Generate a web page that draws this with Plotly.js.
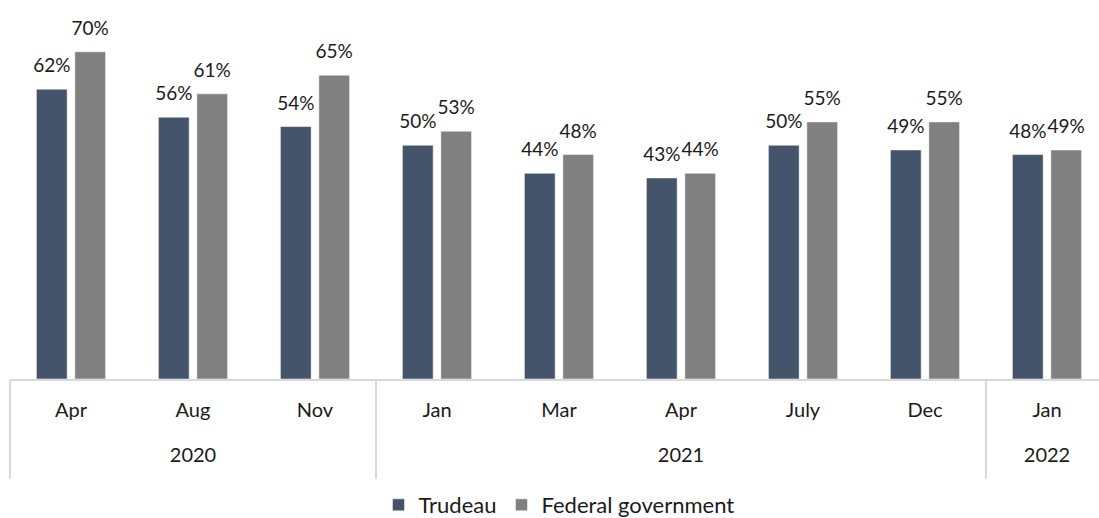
<!DOCTYPE html>
<html>
<head>
<meta charset="utf-8">
<script src="https://cdn.plot.ly/plotly-3.0.1.min.js"></script>
<style>
html,body{margin:0;padding:0;background:#fff;}
#wrap{width:1099px;height:518px;overflow:hidden;position:relative;}
#chart{width:1110px;height:518px;}
</style>
</head>
<body>
<div id="wrap"><div id="chart"></div></div>
<script>
const years = ['2020','2020','2020','2021','2021','2021','2021','2021','2022'];
const months = ['Apr','Aug','Nov','Jan','Mar','Apr','July','Dec','Jan'];
const trudeau = [62, 56, 54, 50, 44, 43, 50, 49, 48];
const federal = [70, 61, 65, 53, 48, 44, 55, 55, 49];
const seriesNames = ['Trudeau', 'Federal government'];
const colors = ['#44546A', '#808080'];

const FONT = 'Lato, "Open Sans", sans-serif';
const INK = '#1a1a1a';
const LINE = '#D9D9D9';
const textTpl = '<span style="font-size:19px">%{y}%</span><br><span style="font-size:6px"> </span>';

// unique category ids (year + month), shown with month tick text
const cats = years.map((y, i) => y + ' ' + months[i]);
// year groups: centre index of each year and the boundaries between groups
const yearNames = [...new Set(years)];
const yearCenters = yearNames.map(y => {
  const idx = years.map((v, i) => v === y ? i : -1).filter(i => i >= 0);
  return (idx[0] + idx[idx.length - 1]) / 2;
});
const boundaries = [-0.5];
years.forEach((y, i) => { if (i > 0 && y !== years[i - 1]) boundaries.push(i - 0.5); });
boundaries.push(years.length - 0.5);
const xRange = [-0.5, years.length - 0.5];

const traces = [trudeau, federal].map((vals, i) => ({
  type: 'bar',
  name: seriesNames[i],
  x: cats,
  y: vals,
  marker: {color: colors[i], line: {color: 'rgba(255,255,255,0.5)', width: 1}},
  texttemplate: textTpl,
  textposition: 'outside',
  constraintext: 'none',
  cliponaxis: false,
  textfont: {family: FONT, size: 10, color: INK},
  hoverinfo: 'skip'
}));

// carrier traces (no visible marks) so the year-label axis and the divider axis are drawn
traces.push({
  type: 'scatter', mode: 'markers', xaxis: 'x2', yaxis: 'y',
  x: yearCenters, y: yearCenters.map(() => 0),
  marker: {opacity: 0, size: 1}, showlegend: false, hoverinfo: 'skip', cliponaxis: true
});
traces.push({
  type: 'scatter', mode: 'markers', xaxis: 'x3', yaxis: 'y',
  x: boundaries, y: boundaries.map(() => 0),
  marker: {opacity: 0, size: 1}, showlegend: false, hoverinfo: 'skip', cliponaxis: true
});

const layout = {
  width: 1110,
  height: 518,
  margin: {l: 10, r: 2, t: 5, b: 139, autoexpand: false},
  paper_bgcolor: '#fff',
  plot_bgcolor: '#fff',
  barmode: 'group',
  bargap: 0.37,
  bargroupgap: 0.2,
  font: {family: FONT, size: 20, color: INK},
  showlegend: true,
  legend: {
    orientation: 'h',
    x: 0.5, xanchor: 'center',
    y: -0.337, yanchor: 'middle',
    font: {family: FONT, size: 22, color: INK},
    traceorder: 'normal'
  },
  xaxis: {
    type: 'category',
    range: xRange,
    automargin: false,
    tickmode: 'array',
    tickvals: cats,
    ticktext: months,
    showline: true,
    linecolor: LINE,
    linewidth: 1.5,
    showgrid: false,
    ticks: '',
    ticklabelstandoff: 12,
    tickfont: {family: FONT, size: 20, color: INK},
    fixedrange: true
  },
  xaxis2: {
    type: 'linear',
    overlaying: 'x',
    anchor: 'y',
    side: 'bottom',
    range: xRange,
    automargin: false,
    tickmode: 'array',
    tickvals: yearCenters,
    ticktext: yearNames,
    showline: false,
    showgrid: false,
    zeroline: false,
    ticks: '',
    ticklabelstandoff: 62,
    tickfont: {family: FONT, size: 20, color: INK},
    fixedrange: true
  },
  xaxis3: {
    type: 'linear',
    overlaying: 'x',
    anchor: 'y',
    side: 'bottom',
    range: xRange,
    automargin: false,
    tickmode: 'array',
    tickvals: boundaries,
    showticklabels: false,
    showline: false,
    showgrid: false,
    zeroline: false,
    ticks: 'outside',
    ticklen: 99,
    tickwidth: 1.5,
    tickcolor: LINE,
    fixedrange: true
  },
  yaxis: {
    range: [0, 80],
    visible: false,
    showgrid: false,
    zeroline: false,
    fixedrange: true
  }
};

Plotly.newPlot('chart', traces, layout, {displayModeBar: false, staticPlot: true});
</script>
</body>
</html>
